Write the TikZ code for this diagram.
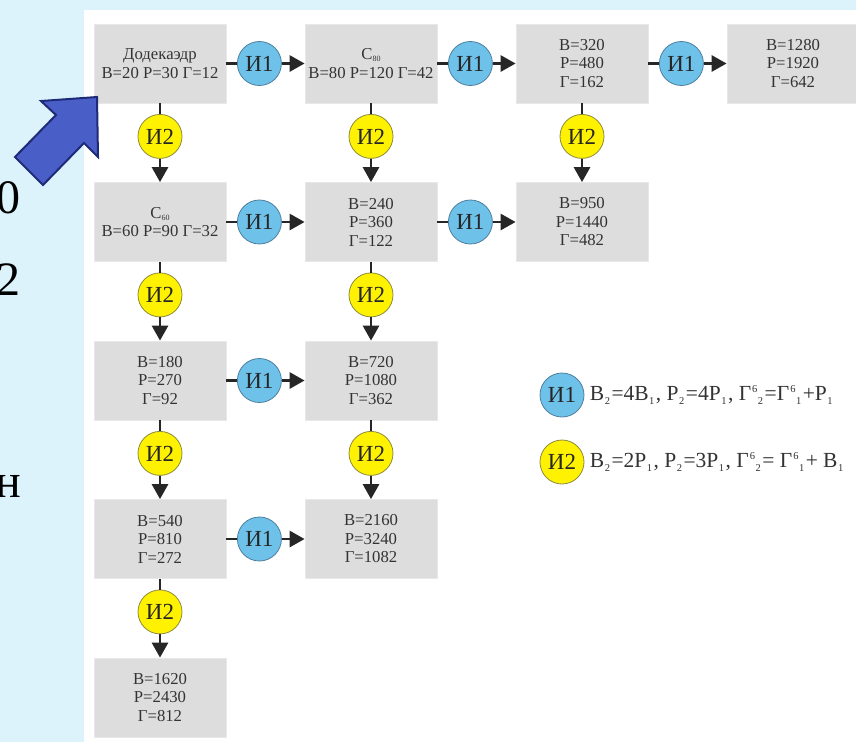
\documentclass[tikz,border=0pt]{standalone}
\usepackage{fontspec}
\setmainfont{Liberation Serif}
\usetikzlibrary{arrows.meta,calc,positioning}
\definecolor{slidebg}{HTML}{DDF3FC}
\definecolor{cellgray}{HTML}{DDDDDD}
\definecolor{cellline}{HTML}{E8E8E8}
\definecolor{ionefill}{HTML}{6EC2EA}
\definecolor{ioneline}{HTML}{4D7E9E}
\definecolor{itwofill}{HTML}{FFF200}
\definecolor{itwoline}{HTML}{8C8A3C}
\definecolor{ink}{HTML}{333333}
\definecolor{bigarrow}{HTML}{4A5EC8}
\definecolor{bigarrowline}{HTML}{1E2B78}
\newcommand\cidx[1]{\raisebox{-2pt}{\fontsize{8}{9}\selectfont#1}}
\newcommand\lo[1]{\kern0.5pt\raisebox{-4pt}{\fontsize{10.5}{12}\selectfont#1}\kern1.5pt}
\newcommand\gsix[1]{Г\kern1pt\raisebox{8pt}{\fontsize{10.5}{12}\selectfont 6}\lo{#1}}
\tikzset{
  cellnode/.style={rectangle,fill=cellgray,draw=cellline,line width=0.8pt,
    minimum width=132pt,minimum height=79pt,inner sep=0pt,align=center,
    text=ink,font=\fontsize{16.7}{18.5}\selectfont},
  opnode/.style={circle,minimum size=44pt,inner sep=0pt,line width=0.8pt,
    text=black!85,font=\fontsize{23}{24}\selectfont},
  ionenode/.style={opnode,fill=ionefill,draw=ioneline},
  itwonode/.style={opnode,fill=itwofill,draw=itwoline},
  link/.style={line width=2.8pt,draw=black!85},
  arr/.style={link,-{Triangle[length=15pt,width=16pt]}}
}

\begin{document}
\begin{tikzpicture}[x=1pt,y=-1pt]
  \useasboundingbox (0,0) rectangle (856,742);

  % slide background and white panel
  \fill[slidebg] (0,0) rectangle (856,742);
  \fill[white] (84,10) rectangle (856,742);

  % cut-off slide text on the left
  \foreach \nm/\yy/\lbl in {sa/213/0,sb/295/2,sc/497/н}{
    \node[anchor=base east,inner sep=0pt,font=\fontsize{48}{50}\selectfont] (\nm) at (21,\yy) {\lbl};
  }

  % cells, named b<row><column>
  \node[cellnode] (b11) at (160,63.5) {Додекаэдр\\В=20 Р=30 Г=12};
  \node[cellnode] (b12) at (371,63.5) {С\cidx{80}\\В=80 Р=120 Г=42};
  \node[cellnode] (b13) at (582,63.5) {В=320\\Р=480\\Г=162};
  \node[cellnode] (b14) at (793,63.5) {В=1280\\Р=1920\\Г=642};
  \node[cellnode] (b21) at (160,222) {С\cidx{60}\\В=60 Р=90 Г=32};
  \node[cellnode] (b22) at (371,222) {В=240\\Р=360\\Г=122};
  \node[cellnode] (b23) at (582,222) {В=950\\Р=1440\\Г=482};
  \node[cellnode] (b31) at (160,380.5) {В=180\\Р=270\\Г=92};
  \node[cellnode] (b32) at (371,380.5) {В=720\\Р=1080\\Г=362};
  \node[cellnode] (b41) at (160,539) {В=540\\Р=810\\Г=272};
  \node[cellnode] (b42) at (371,539) {В=2160\\Р=3240\\Г=1082};
  \node[cellnode] (b51) at (160,697.5) {В=1620\\Р=2430\\Г=812};

  % operation И1 (to the right)
  \foreach \row/\ca/\cb in {1/1/2,1/2/3,1/3/4,2/1/2,2/2/3,3/1/2,4/1/2}{
    \node[ionenode] (h\row\ca) at ($(b\row\ca.east)+(33,0)$) {И1};
    \draw[link] (b\row\ca) -- (h\row\ca);
    \draw[arr] (h\row\ca) -- (b\row\cb);
  }

  % operation И2 (downwards)
  \foreach \col/\ra/\rb in {1/1/2,1/2/3,1/3/4,1/4/5,2/1/2,2/2/3,2/3/4,3/1/2}{
    \node[itwonode] (v\ra\col) at ($(b\ra\col.south)+(0,33)$) {И2};
    \draw[link] (b\ra\col) -- (v\ra\col);
    \draw[arr] (v\ra\col) -- (b\rb\col);
  }

  % legend
  \node[ionenode] (k1) at (562,395) {И1};
  \node[right=2pt of k1,text=ink,font=\fontsize{21.5}{24}\selectfont] (t1)
    {В\lo{2}=4В\lo{1}, Р\lo{2}=4Р\lo{1}, \gsix{2}=\gsix{1}+Р\lo{1}};
  \node[itwonode] (k2) at (562,462) {И2};
  \node[right=2pt of k2,text=ink,font=\fontsize{21.5}{24}\selectfont] (t2)
    {В\lo{2}=2Р\lo{1}, Р\lo{2}=3Р\lo{1}, \gsix{2}= \gsix{1} + В\lo{1}};

  % big pointer arrow
  \draw[fill=bigarrow,draw=bigarrowline,line width=2pt,line join=miter]
    (97,97) -- (41,101) -- (56,115) -- (15,157) -- (43,185) -- (84,143) -- (98,157) -- cycle;

\end{tikzpicture}
\end{document}
